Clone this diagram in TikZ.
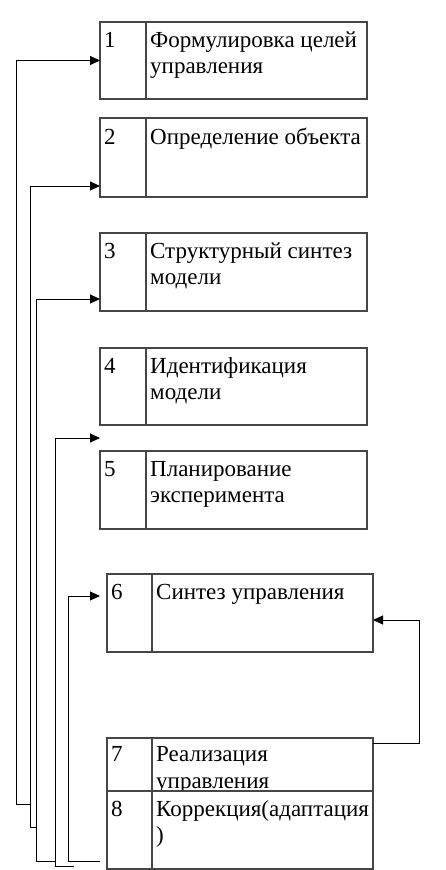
\documentclass[tikz,border=0pt]{standalone}
\usepackage{fontspec}
\setmainfont{Liberation Serif}
\usetikzlibrary{arrows.meta,positioning,calc}
\definecolor{BoxGray}{RGB}{70,70,70}
\newcommand{\cellfont}{\fontsize{23}{26.5}\selectfont}
\tikzset{
  numcell/.style={draw=BoxGray, fill=white, line width=1.3pt, anchor=north west,
                  inner sep=0pt, outer sep=0pt, minimum width=46pt, minimum height=#1pt},
  txtcell/.style={draw=BoxGray, fill=white, line width=1.3pt,
                  inner sep=0pt, outer sep=0pt, minimum width=221pt, minimum height=#1pt},
  celltext/.style={anchor=north west, align=left, inner sep=0pt, font=\cellfont},
  arr/.style={-{Triangle[length=10pt,width=9pt]}, line width=1pt, black},
}
\begin{document}
\begin{tikzpicture}[x=1pt, y=-1pt]
  \useasboundingbox (0,0) rectangle (446,870);

  % Boxes 1-5
  \node[numcell=77] (n1) at (100,22) {};
  \node[txtcell=77, right=0pt of n1] (t1) {};
  \node[numcell=79] (n2) at (100,118) {};
  \node[txtcell=79, right=0pt of n2] (t2) {};
  \node[numcell=78] (n3) at (100,233) {};
  \node[txtcell=78, right=0pt of n3] (t3) {};
  \node[numcell=77] (n4) at (100,348) {};
  \node[txtcell=77, right=0pt of n4] (t4) {};
  \node[numcell=78] (n5) at (100,451) {};
  \node[txtcell=78, right=0pt of n5] (t5) {};

  \node[celltext] (l1) at ([xshift=4pt,yshift=-6.45pt]n1.north west) {\strut 1};
  \node[celltext] (m1) at ([xshift=4pt,yshift=-6.45pt]t1.north west) {\strut Формулировка целей\\управления};
  \node[celltext] (l2) at ([xshift=4pt,yshift=-7.45pt]n2.north west) {\strut 2};
  \node[celltext] (m2) at ([xshift=4pt,yshift=-7.45pt]t2.north west) {\strut Определение объекта};
  \node[celltext] (l3) at ([xshift=4pt,yshift=-6.45pt]n3.north west) {\strut 3};
  \node[celltext] (m3) at ([xshift=4pt,yshift=-6.45pt]t3.north west) {\strut Структурный синтез\\модели};
  \node[celltext] (l4) at ([xshift=4pt,yshift=-6.45pt]n4.north west) {\strut 4};
  \node[celltext] (m4) at ([xshift=4pt,yshift=-6.45pt]t4.north west) {\strut Идентификация\\модели};
  \node[celltext] (l5) at ([xshift=4pt,yshift=-6.45pt]n5.north west) {\strut 5};
  \node[celltext] (m5) at ([xshift=4pt,yshift=-6.45pt]t5.north west) {\strut Планирование\\эксперимента};

  % Boxes 6-8
  \node[numcell=78, minimum width=45pt] (n6) at (107,574) {};
  \node[txtcell=78, right=0pt of n6] (t6) {};
  \node[celltext] (l6) at ([xshift=4pt,yshift=-6.45pt]n6.north west) {\strut 6};
  \node[celltext] (m6) at ([xshift=4pt,yshift=-6.45pt]t6.north west) {\strut Синтез управления};

  \node[numcell=53, minimum width=45pt] (n7) at (107,738) {};
  \node[txtcell=53, right=0pt of n7] (t7) {};
  \node[celltext] (l7) at ([xshift=4pt,yshift=-5.2pt]n7.north west) {\strut 7};
  \node[celltext] (m7) at ([xshift=4pt,yshift=-5.2pt]t7.north west) {\strut Реализация\\управления};

  \node[numcell=78, minimum width=45pt] (n8) at (107,791) {};
  \node[txtcell=78, right=0pt of n8] (t8) {};
  \node[celltext] (l8) at ([xshift=4pt,yshift=-6.45pt]n8.north west) {\strut 8};
  \node[celltext] (m8) at ([xshift=4pt,yshift=-6.45pt]t8.north west) {\strut Коррекция(адаптация\\)};

  % feedback corners
  \coordinate (b1) at (30,804);  \coordinate (e1) at (16,804);
  \coordinate (b2) at (36,827);  \coordinate (e2) at (30,827);
  \coordinate (b3) at (55,861);  \coordinate (e3) at (36,861);
  \coordinate (b4) at (74,866);  \coordinate (e4) at (55,866);
  \coordinate (b6) at (100,861); \coordinate (e6) at (68,861);
  \coordinate (rr) at (419,0);
  \coordinate (o7) at ([yshift=-5pt]t7.north east);
  \coordinate (i6) at ([yshift=-46pt]t6.north east);

  % arrows
  \draw[arr] (b1) -- (e1) |- (n1.west);
  \draw[arr] (b2) -- (e2) |- ([yshift=11pt]n2.south west);
  \draw[arr] (b3) -- (e3) |- ([yshift=12pt]n3.south west);
  \draw[arr] (b4) -- (e4) |- ([yshift=13pt]n5.north west);
  \draw[arr] (b6) -- (e6) |- ([xshift=-7pt,yshift=-22pt]n6.north west);
  \draw[arr] (o7) -| (rr |- i6) -- (i6);
\end{tikzpicture}
\end{document}
